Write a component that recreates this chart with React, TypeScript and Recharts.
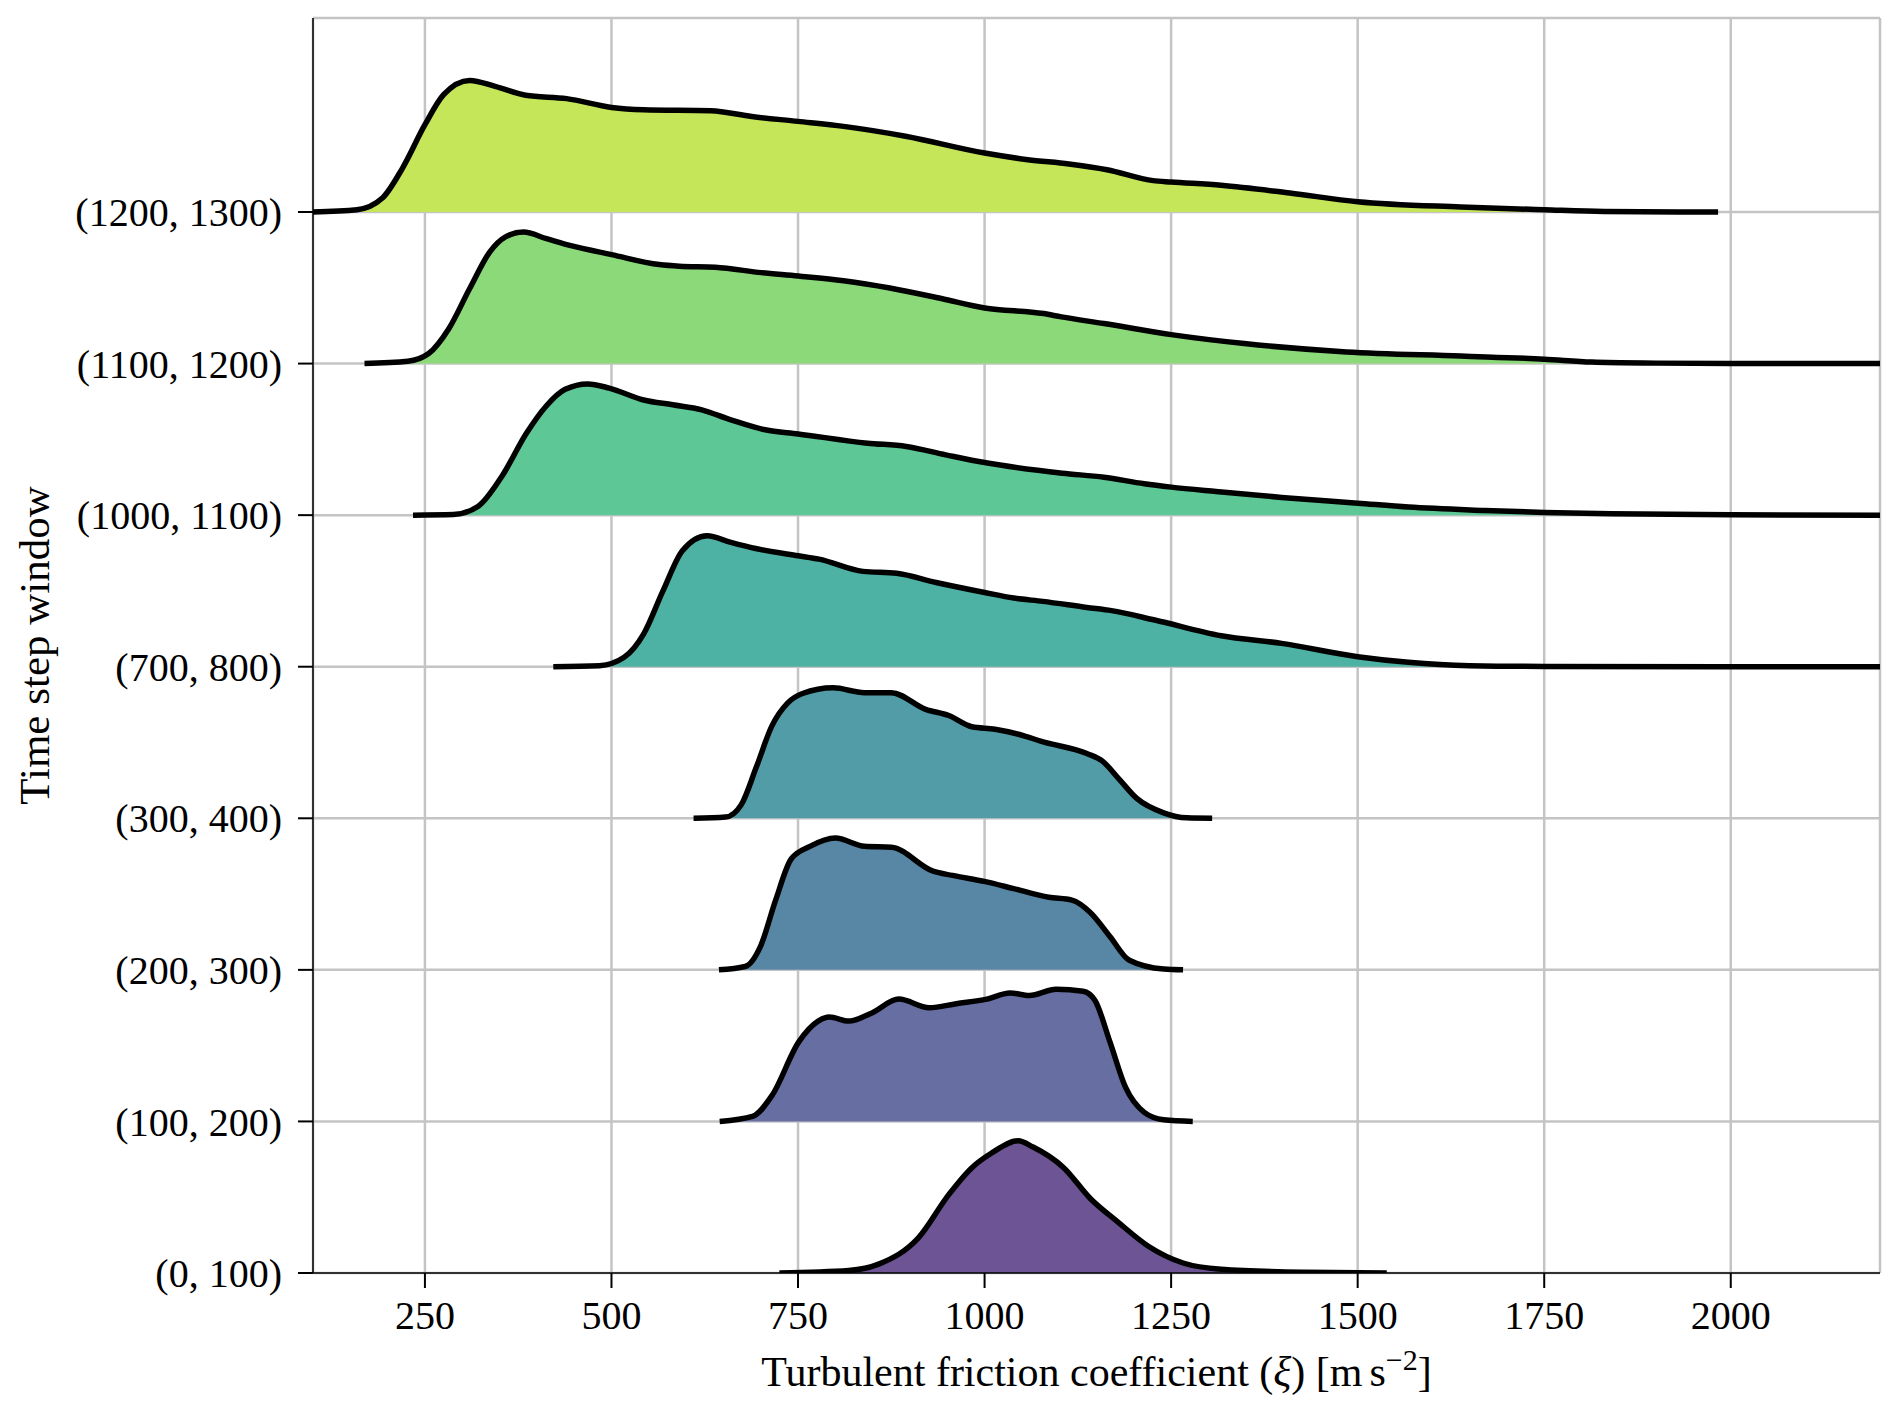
import React from 'react';
import { ComposedChart, Area, Line, XAxis, YAxis, CartesianGrid } from 'recharts';

// Ridge plot of the turbulent friction coefficient per time step window
const categories = [
  '(0, 100)',
  '(100, 200)',
  '(200, 300)',
  '(300, 400)',
  '(700, 800)',
  '(1000, 1100)',
  '(1100, 1200)',
  '(1200, 1300)',
];

const fillColors = ['#6d5494', '#666ea2', '#5887a6', '#529ca8', '#4db2a4', '#5ec796', '#8bd979', '#c5e658'];

const xTicks = [250, 500, 750, 1000, 1250, 1500, 1750, 2000];
const yTicks = [0, 1, 2, 3, 4, 5, 6, 7];

// [xi, density height as a fraction of the row spacing]
const ridge0to100: [number, number][] = [
  [725, 0], [818, 0.016], [859, 0.06], [911, 0.23], [952, 0.517], [983, 0.695], [1009, 0.79],
  [1045, 0.872], [1065, 0.831], [1106, 0.695], [1142, 0.49], [1178, 0.339], [1220, 0.175],
  [1266, 0.066], [1317, 0.025], [1430, 0.005], [1539, 0],
];

const ridge100to200: [number, number][] = [
  [645, 0], [689, 0.033], [715, 0.17], [751, 0.525], [777, 0.662], [792, 0.689], [818, 0.662],
  [849, 0.716], [885, 0.807], [926, 0.75], [962, 0.777], [1003, 0.807], [1034, 0.848],
  [1060, 0.831], [1096, 0.872], [1132, 0.859], [1148, 0.798], [1168, 0.525], [1189, 0.224],
  [1214, 0.06], [1240, 0.011], [1279, 0],
];

const ridge200to300: [number, number][] = [
  [644, 0], [679, 0.022], [700, 0.159], [720, 0.46], [741, 0.733], [766, 0.815], [800, 0.87],
  [839, 0.815], [875, 0.809], [931, 0.651], [957, 0.623], [1001, 0.582], [1039, 0.536],
  [1086, 0.479], [1117, 0.46], [1142, 0.377], [1168, 0.22], [1194, 0.063], [1240, 0.005], [1266, 0],
];

const ridge300to400: [number, number][] = [
  [610, 0], [653, 0.008], [674, 0.09], [694, 0.336], [715, 0.61], [736, 0.76], [756, 0.823],
  [797, 0.861], [839, 0.829], [875, 0.829], [921, 0.719], [952, 0.678], [983, 0.604],
  [1014, 0.588], [1055, 0.541], [1075, 0.509], [1137, 0.427], [1158, 0.377], [1180, 0.26],
  [1204, 0.131], [1240, 0.036], [1271, 0.003], [1305, 0],
];

const ridge700to800: [number, number][] = [
  [422, 0], [484, 0.007], [517, 0.062], [543, 0.215], [569, 0.5], [595, 0.765], [628, 0.864],
  [660, 0.82], [693, 0.78], [750, 0.732], [778, 0.71], [837, 0.629], [882, 0.616], [935, 0.556],
  [1000, 0.49], [1039, 0.453], [1078, 0.431], [1137, 0.391], [1170, 0.37], [1228, 0.308],
  [1317, 0.204], [1398, 0.154], [1500, 0.066], [1568, 0.029], [1650, 0.007], [1750, 0.002], [2200, 0],
];

const ridge1000to1100: [number, number][] = [
  [234, 0], [288, 0.004], [321, 0.057], [353, 0.255], [386, 0.54], [412, 0.717], [438, 0.83],
  [468, 0.866], [497, 0.838], [543, 0.76], [582, 0.728], [621, 0.695], [660, 0.629], [706, 0.563],
  [750, 0.536], [843, 0.475], [895, 0.453], [948, 0.398], [1000, 0.347], [1104, 0.277],
  [1160, 0.25], [1214, 0.207], [1250, 0.185], [1310, 0.156], [1398, 0.117], [1500, 0.079],
  [1568, 0.053], [1670, 0.031], [1750, 0.018], [1840, 0.009], [2000, 0.002], [2200, 0],
];

const ridge1100to1200: [number, number][] = [
  [169, 0], [227, 0.015], [255, 0.066], [282, 0.23], [310, 0.495], [337, 0.737], [358, 0.836],
  [382, 0.868], [413, 0.824], [447, 0.776], [500, 0.719], [564, 0.653], [591, 0.642], [639, 0.635],
  [701, 0.6], [750, 0.578], [811, 0.547], [873, 0.499], [942, 0.429], [1000, 0.367], [1079, 0.33],
  [1103, 0.308], [1160, 0.264], [1250, 0.191], [1348, 0.132], [1485, 0.077], [1638, 0.05],
  [1750, 0.029], [1814, 0.01], [1900, 0.003], [2000, 0], [2200, 0],
];

const ridge1200to1300: [number, number][] = [
  [100, 0], [159, 0.015], [193, 0.092], [220, 0.29], [250, 0.576], [275, 0.774], [310, 0.868],
  [344, 0.829], [385, 0.77], [440, 0.748], [500, 0.69], [543, 0.675], [633, 0.668], [688, 0.63],
  [750, 0.598], [811, 0.565], [894, 0.5], [1000, 0.389], [1058, 0.345], [1113, 0.317],
  [1164, 0.279], [1226, 0.207], [1250, 0.198], [1317, 0.176], [1409, 0.125], [1500, 0.068],
  [1638, 0.033], [1750, 0.015], [1830, 0.004], [1983, 0],
];

const ridges = [
  ridge0to100,
  ridge100to200,
  ridge200to300,
  ridge300to400,
  ridge700to800,
  ridge1000to1100,
  ridge1100to1200,
  ridge1200to1300,
];

// each ridge sits on its own row: y = row index + density
const series = ridges.map((pts, i) => pts.map(([x, h]) => ({ x, y: i + h })));

const FONT = '"Liberation Serif", "DejaVu Serif", serif';

const XTitle = (props: any) => {
  const vb = props.viewBox || {};
  const cx = vb.x + vb.width / 2;
  return (
    <text x={cx} y={1386} textAnchor="middle" fontFamily={FONT} fontSize={42} fill="#000">
      <tspan>Turbulent friction coefficient (</tspan>
      <tspan fontStyle="italic">ξ</tspan>
      <tspan>) [m</tspan>
      <tspan dx={7}>s</tspan>
      <tspan dy={-16} fontSize={30}>−2</tspan>
      <tspan dy={16}>]</tspan>
    </text>
  );
};

const YTitle = (props: any) => {
  const vb = props.viewBox || {};
  const cy = vb.y + vb.height / 2;
  return (
    <text
      x={34}
      y={cy}
      transform={`rotate(-90, 34, ${cy})`}
      textAnchor="middle"
      dominantBaseline="central"
      fontFamily={FONT}
      fontSize={43}
      fill="#000"
    >
      Time step window
    </text>
  );
};

const App: React.FC = () => {
  return (
    <div style={{ position: 'absolute', left: 0, top: 0, background: '#fff' }}>
      <ComposedChart width={1892} height={1408} margin={{ top: 18, right: 12, bottom: 0, left: 0 }}>
        <XAxis
          type="number"
          dataKey="x"
          domain={[100, 2200]}
          ticks={xTicks}
          allowDataOverflow
          height={135}
          stroke="#000"
          axisLine={{ stroke: '#000', strokeWidth: 1.5 }}
          tickLine={{ stroke: '#000', strokeWidth: 2 }}
          tickSize={15}
          tickMargin={13}
          tick={{ fill: '#000', fontSize: 40, fontFamily: FONT }}
          label={<XTitle />}
        />
        <YAxis
          type="number"
          domain={[0, 8.28]}
          ticks={yTicks}
          allowDataOverflow
          width={313}
          tickFormatter={(v: number) => categories[v] ?? ''}
          axisLine={{ stroke: '#000', strokeWidth: 1.5 }}
          tickLine={{ stroke: '#000', strokeWidth: 2 }}
          tickSize={15}
          tickMargin={16}
          tick={{ fill: '#000', fontSize: 40, fontFamily: FONT }}
          label={<YTitle />}
        />
        {series.map((d, i) => (
          <Area
            key={`fill-${i}`}
            data={d}
            dataKey="y"
            type="monotone"
            baseValue={i}
            fill={fillColors[i]}
            fillOpacity={1}
            stroke="none"
            isAnimationActive={false}
          />
        ))}
        <CartesianGrid stroke="#c4c4c4" strokeWidth={2.5} />
        {series.map((d, i) => (
          <Line
            key={`line-${i}`}
            data={d}
            dataKey="y"
            type="monotone"
            stroke="#000"
            strokeWidth={5.5}
            dot={false}
            activeDot={false}
            isAnimationActive={false}
          />
        ))}
      </ComposedChart>
    </div>
  );
};

export default App;
